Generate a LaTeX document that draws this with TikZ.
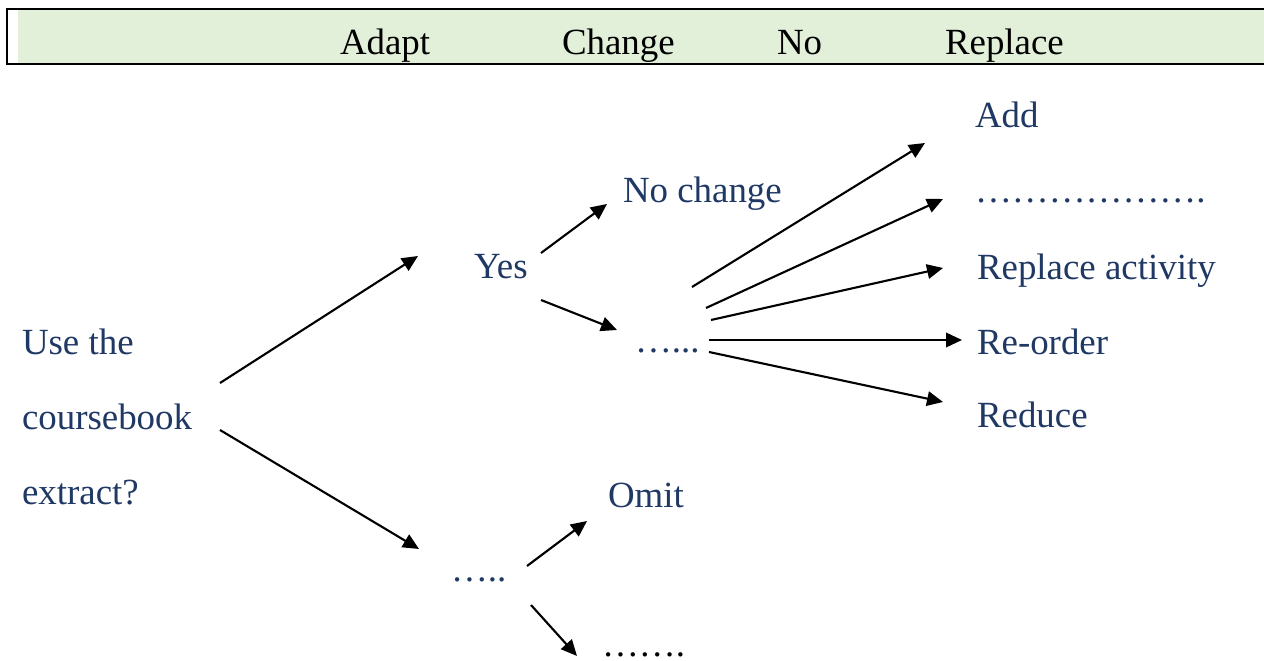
\documentclass[tikz,border=0pt]{standalone}
\usepackage{fontspec}
\setmainfont{Liberation Serif}
\usetikzlibrary{arrows.meta,calc,positioning}
\definecolor{txtblue}{RGB}{31,56,100}
\definecolor{barfill}{RGB}{226,239,217}
\begin{document}
\begin{tikzpicture}[x=0.02cm,y=-0.02cm,
	lbl/.style={anchor=base west,inner sep=0pt,outer sep=0pt,font=\fontsize{21}{25}\selectfont,text=txtblue},
	hdr/.style={lbl,text=black},
	arr/.style={line width=1.2pt,-{Triangle[length=0.32cm,width=0.29cm]}}]
	\useasboundingbox (0,0) rectangle (1264,661);
	\clip (0,0) rectangle (1264,661);
	\fill[barfill] (18,10) rectangle (1270,63); \draw[line width=1.4pt] (1270,9) -- (7,9) -- (7,64) -- (1270,64);
	\node[hdr] (hadapt) at (340,55) {Adapt}; \node[hdr] (hchange) at (562,55) {Change}; \node[hdr] (hno) at (777,55) {No}; \node[hdr] (hrepl) at (945,55) {Replace};

	\node[lbl] (use) at (22,355) {Use the}; \node[lbl] (course) at (22,430) {coursebook}; \node[lbl] (extract) at (22,505) {extract?};
	\node[lbl] (yes) at (474,279) {Yes}; \node[lbl] (nochange) at (623,203) {No change}; \node[lbl] (midots) at (635,353) {…...};
	\node[lbl] (botdots) at (451,582) {…..}; \node[lbl] (omit) at (608,508) {Omit}; \node[hdr] (lowdots) at (602,656) {…….};
	\node[lbl] (add) at (975,128) {Add}; \node[lbl] (blank) at (975,203) {……………….}; \node[lbl] (replact) at (977,280) {Replace activity}; \node[lbl] (reorder) at (977,355) {Re-order}; \node[lbl] (reduce) at (977,428) {Reduce};

	\draw[arr] ([shift={(198,-47)}]course.base west) -- ([shift={(-56,-23)}]yes.base west); \draw[arr] ([shift={(198,0)}]course.base west) -- ([shift={(-32,-33)}]botdots.base west);
	\draw[arr] ([shift={(67,-26)}]yes.base west) -- ([shift={(-16,1)}]nochange.base west); \draw[arr] ([shift={(67,21)}]yes.base west) -- ([shift={(-18,-23)}]midots.base west);
	\draw[arr] ([shift={(57,-66)}]midots.base west) -- ([shift={(-50,15)}]add.base west); \draw[arr] ([shift={(71,-45)}]midots.base west) -- ([shift={(-32,-4)}]blank.base west);
	\draw[arr] ([shift={(76,-33)}]midots.base west) -- ([shift={(-34,-12)}]replact.base west); \draw[arr] ([shift={(74,-13)}]midots.base west) -- ([shift={(-15,-15)}]reorder.base west);
	\draw[arr] ([shift={(74,-1)}]midots.base west) -- ([shift={(-34,-26)}]reduce.base west);
	\draw[arr] ([shift={(76,-16)}]botdots.base west) -- ([shift={(-21,13)}]omit.base west); \draw[arr] ([shift={(80,23)}]botdots.base west) -- ([shift={(-25,0)}]lowdots.base west);
\end{tikzpicture}
\end{document}
